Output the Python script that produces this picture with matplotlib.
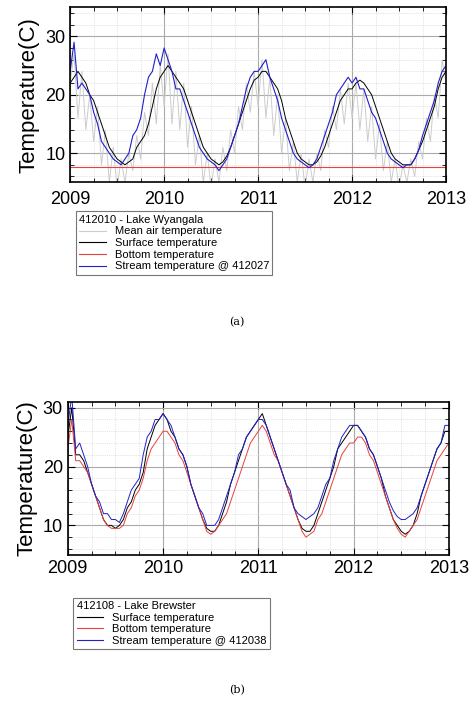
import matplotlib
matplotlib.use("Agg")
import matplotlib.pyplot as plt
from matplotlib.ticker import MultipleLocator, AutoMinorLocator
from matplotlib.lines import Line2D

plt.rcParams["font.family"] = ["Liberation Sans", "DejaVu Sans"]

# half-monthly readings, Jan 2009 .. Jan 2013
air_a = [22, 27, 16, 24, 14, 20, 12, 18, 8, 14, 5, 11, 4, 9, 5, 10, 7, 13, 9, 17, 13, 22, 15, 25,
         18, 27, 15, 24, 14, 22, 11, 18, 8, 13, 5, 10, 4, 9, 5, 11, 7, 14, 10, 18, 14, 22, 17, 24,
         18, 26, 16, 23, 13, 20, 10, 16, 7, 12, 5, 10, 4, 9, 5, 10, 7, 14, 11, 18, 14, 21, 15, 22,
         16, 22, 14, 21, 12, 18, 9, 15, 7, 12, 5, 9, 4, 8, 5, 9, 6, 12, 9, 16, 12, 20, 16, 26,
         22]
surface_a = [22, 23, 24, 23, 22, 20, 19, 17, 15, 13, 11, 10, 9, 8.5, 8, 8.5, 9, 11, 12, 13, 15, 18, 21, 23,
             24, 25, 24, 23, 22, 21, 19, 17, 15, 13, 11, 10, 9, 8.5, 8, 8.5, 9.5, 11, 13, 15, 17, 19, 21, 22.5,
             23, 24, 24, 23, 22, 21, 19, 16, 14, 12, 10, 9, 8.5, 8, 8, 8.5, 9.5, 11, 13, 15, 17, 19, 20, 21,
             21, 22, 22.5, 22, 21, 20, 18, 16, 14, 12, 10, 9, 8.5, 8, 8, 8, 9, 10.5, 12, 14, 16, 18, 21, 23,
             24]
stream_a = [24, 29, 21, 22, 21, 20, 17, 15, 12, 11, 10, 9, 8.5, 8, 9, 10, 13, 14, 16, 20, 23, 24, 27, 25,
            28, 26, 24, 21, 21, 19, 17, 15, 13, 11, 10, 9, 8.5, 8, 7, 8, 9, 11, 13, 15, 18, 21, 23, 24,
            24, 25, 26, 23, 21, 19, 16, 14, 12, 10, 9, 8.5, 8, 7.5, 8, 9, 11, 13, 15, 17, 20, 21, 22, 23,
            22, 23, 21, 21, 19, 17, 16, 14, 12, 10, 9, 8.5, 8, 7.5, 8, 8, 9, 10.5, 13, 15, 17, 19, 22, 24,
            25]
bottom_a_level = 7.6

surface_b = [25, 30, 22, 22, 21, 19, 17, 15, 13, 11, 10, 10, 9.5, 10, 11, 13, 14, 16, 17, 19, 23, 25, 27, 28,
             29, 28, 26, 25, 23, 22, 20, 17, 15, 13, 11, 9.5, 9, 9, 10, 12, 14, 17, 19, 21, 23, 25, 26, 27,
             28, 29, 27, 25, 23, 21, 19, 17, 15, 13, 11, 9.5, 9, 9, 10, 12, 14, 16, 18, 20, 23, 24, 25, 26,
             27, 27, 26, 25, 23, 22, 20, 18, 15, 13, 11, 10, 9, 8.5, 9, 10, 12, 15, 17, 19, 21, 23, 24, 26,
             26]
bottom_b = [23, 28, 21, 21, 20, 19, 17, 15, 13, 11, 10, 9.5, 9.5, 9.5, 10, 12, 13, 15, 16, 18, 21, 23, 24, 25,
            26, 26, 25, 24, 22, 21, 19, 17, 15, 13, 11, 9, 8.5, 9, 10, 11, 12, 14, 16, 18, 20, 22, 24, 25,
            26, 27, 26, 24, 22, 21, 19, 17, 15, 13, 11, 9, 8, 8.5, 9, 11, 12, 14, 16, 18, 20, 22, 23, 24,
            24, 25, 25, 24, 22, 21, 19, 17, 15, 13, 11, 9.5, 8.5, 8, 9, 10, 11, 13, 15, 17, 19, 21, 22, 23,
            24]
stream_b = [27, 32, 23, 24, 22, 20, 17, 15, 14, 12, 12, 11, 11, 10.5, 12, 14, 16, 17, 18, 22, 25, 26, 28, 28,
            29, 28, 27, 25, 23, 22, 20, 17, 15, 13, 12, 10, 10, 10, 11, 13, 15, 17, 19, 22, 23, 25, 26, 27,
            28, 28, 27, 25, 23, 21, 19, 17, 16, 13, 12, 11.5, 11, 11.5, 12, 13, 15, 17, 18, 21, 23, 25, 26, 27,
            27, 27, 26, 25, 23, 22, 20, 18, 16, 14, 12.5, 11.5, 11, 11, 11.5, 12, 13, 15, 17, 19, 21, 23, 24, 27,
            27]

years = [2009 + k / 24 for k in range(len(surface_a))]
year_ticks = [2009, 2010, 2011, 2012, 2013]


def style_axes(ax, ylim):
    ax.set_xlim(2009, 2013)
    ax.set_ylim(*ylim)
    ax.set_xticks(year_ticks)
    ax.xaxis.set_minor_locator(AutoMinorLocator(4))
    ax.yaxis.set_major_locator(MultipleLocator(10))
    ax.yaxis.set_minor_locator(MultipleLocator(2))
    ax.grid(which="major", color="#aaaaaa", lw=0.8)
    ax.grid(which="minor", color="#cccccc", lw=0.5, ls=":")
    ax.tick_params(which="both", direction="in", top=True, right=True, labelsize=13)
    ax.tick_params(which="major", length=5)
    ax.tick_params(which="minor", length=3)
    ax.set_ylabel("Temperature(C)", fontsize=16)
    for s in ax.spines.values():
        s.set_linewidth(1.2)


def add_legend(handles, labels, title, x, y):
    leg = fig.legend(handles, labels, title=title, loc="upper left", bbox_to_anchor=(x, y),
                     fontsize=8, title_fontsize=8, fancybox=False, edgecolor="#555555",
                     handlelength=2.4, borderpad=0.3, labelspacing=0.15, alignment="left")
    leg.get_frame().set_linewidth(0.8)


fig = plt.figure(figsize=(4.74, 7.15), dpi=100)

ax1 = fig.add_axes([0.148, 0.745, 0.793, 0.245])
ax1.plot(years, air_a, color="#cccccc", lw=0.7)
ax1.plot(years, surface_a, color="black", lw=0.7)
ax1.plot(years, [bottom_a_level] * len(years), color="#e84040", lw=0.8)
ax1.plot(years, stream_a, color="#2020cc", lw=0.8)
style_axes(ax1, (5, 35))
ax1.tick_params(labelbottom=False)
for y in year_ticks:
    fig.text(0.148 + 0.793 * (y - 2009) / 4, 0.733, str(y), ha="center", va="top", fontsize=13)

add_legend([Line2D([], [], color="#cccccc", lw=0.8), Line2D([], [], color="black", lw=0.8),
            Line2D([], [], color="#e84040", lw=0.8), Line2D([], [], color="#2020cc", lw=0.8)],
           ["Mean air temperature", "Surface temperature", "Bottom temperature",
            "Stream temperature @ 412027"],
           "412010 - Lake Wyangala", 0.148, 0.712)
fig.text(0.5, 0.545, "(a)", ha="center", fontsize=8, family="DejaVu Serif")

ax2 = fig.add_axes([0.143, 0.224, 0.804, 0.214])
ax2.plot(years, surface_b, color="black", lw=0.7)
ax2.plot(years, bottom_b, color="#e84040", lw=0.7)
ax2.plot(years, stream_b, color="#2020cc", lw=0.7)
style_axes(ax2, (5, 31))

add_legend([Line2D([], [], color="black", lw=0.8), Line2D([], [], color="#e84040", lw=0.8),
            Line2D([], [], color="#2020cc", lw=0.8)],
           ["Surface temperature", "Bottom temperature", "Stream temperature @ 412038"],
           "412108 - Lake Brewster", 0.143, 0.172)
fig.text(0.5, 0.03, "(b)", ha="center", fontsize=8, family="DejaVu Serif")

fig.savefig("out.png", dpi=100)
